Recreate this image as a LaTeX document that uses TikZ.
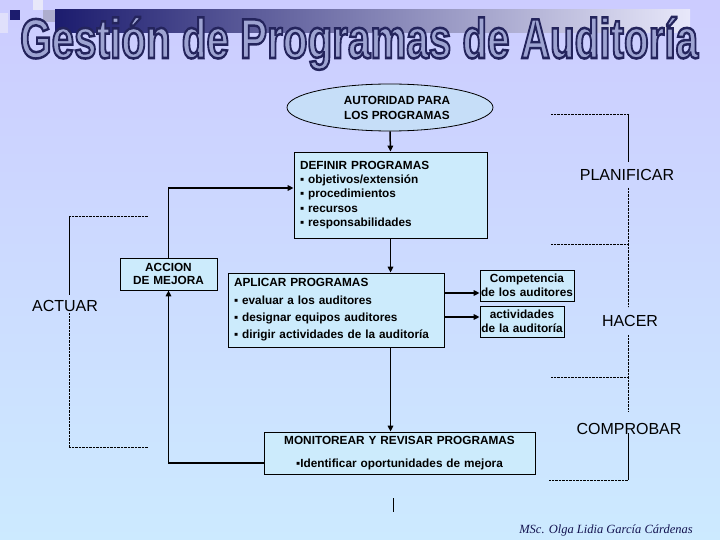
\documentclass[tikz,border=0pt]{standalone}
\usepackage{fontspec}
\setmainfont{Liberation Sans}
\newfontfamily\sigfont{Liberation Serif}
\usetikzlibrary{arrows.meta,shapes.geometric,calc}
\definecolor{bgtop}{RGB}{204,204,255}
\definecolor{bgbot}{RGB}{204,234,255}
\definecolor{boxfill}{RGB}{204,235,252}
\definecolor{ellfill}{RGB}{198,222,248}
\definecolor{navy}{RGB}{28,28,110}
\definecolor{barmid}{RGB}{140,140,185}
\definecolor{barend}{RGB}{232,232,250}
\definecolor{titlefill}{RGB}{158,164,210}
\definecolor{sigcol}{RGB}{20,20,80}
\newcommand\ttltext{\scalebox{1.01}[1.4]{\fontsize{40}{40}\selectfont\bfseries Gestión de Programas de Auditoría}}
\newcommand\outlineon{\special{pdf:literal direct 2 Tr 1.8 w 0.141 0.141 0.361 RG}}
\newcommand\outlineoff{\special{pdf:literal direct 0 Tr 0.4 w}}
\begin{document}
\begin{tikzpicture}[x=1pt,y=-1pt,
  box/.style={draw=black,line width=0.8pt,fill=boxfill,inner xsep=6pt,inner ysep=0pt},
  boxfont/.style={font=\fontsize{11.8}{#1}\selectfont\bfseries},
  arr/.style={line width=1.5pt,-{Triangle[length=6pt,width=5.5pt]}},
  solidline/.style={line width=0.8pt},
  dotline/.style={line width=0.8pt,dash pattern=on 0.7pt off 0.7pt},
  phase/.style={font=\fontsize{16}{18}\selectfont,inner sep=0pt}]
\useasboundingbox (0,0) rectangle (720,540);
% background
\shade[top color=bgtop,bottom color=bgbot] (0,0) rectangle (720,540);
% title decoration
\fill[barend!70!bgtop] (0,13) rectangle (8,33);
\fill[barend] (33,0) rectangle (43,10);
\fill[navy] (10,10) rectangle (20,20);
\fill[barmid!70!white] (43,10) rectangle (55,22);
\shade[left color=navy,middle color=barmid,right color=barend] (55,10) rectangle (690,33);
% title text
\node[anchor=base west,inner sep=0pt,text=titlefill] (title) at (20,58) {\outlineon\ttltext\outlineoff};

% nodes
\node[ellipse,draw=black,line width=0.8pt,fill=ellfill,minimum width=206pt,minimum height=47pt,inner sep=0pt] (aut) at (390,107.5) {};
\node[boxfont=15,align=center,inner sep=0pt] (autlbl) at (397,108) {AUTORIDAD PARA\\LOS PROGRAMAS};

\node[box,boxfont=14.25,text width=181pt,minimum height=86pt,align=left] (def) at (390.5,195)
  {DEFINIR PROGRAMAS\\ ▪ objetivos/extensión\\ ▪ procedimientos\\ ▪ recursos\\ ▪ responsabilidades};

\node[box,boxfont=17.3,text width=204pt,minimum height=74pt,align=left] (apl) at (336,310)
  {APLICAR PROGRAMAS\\ ▪ evaluar a los auditores\\ ▪ designar equipos auditores\\ ▪ dirigir actividades de la auditoría};

\node[box,boxfont=13,inner xsep=1pt,text width=95pt,minimum height=32pt,align=center] (acc) at (168.5,274)
  {ACCION\\DE MEJORA};

\node[box,boxfont=14,inner xsep=1pt,text width=92pt,minimum height=31pt,align=center] (comp) at (527,285.5)
  {Competencia\\de los auditores};

\node[box,boxfont=14,inner xsep=1pt,text width=82pt,minimum height=31pt,align=center] (act) at (522,321.5)
  {actividades\\de la auditoría};

\node[box,boxfont=23,inner xsep=1pt,text width=269pt,minimum height=42pt,align=center] (mon) at (399.5,453)
  {MONITOREAR Y REVISAR PROGRAMAS\\ ▪Identificar oportunidades de mejora};

% phase labels
\node[phase] (plan) at (627,175) {PLANIFICAR};
\node[phase] (hacer) at (630,321) {HACER};
\node[phase] (comprobar) at (629,429) {COMPROBAR};
\node[phase] (actuar) at (65,306) {ACTUAR};

% arrows
\draw[arr] (aut.south) -- (def.north);
\draw[arr] (def.south) -- (def.south |- apl.north);
\draw[arr] (def.south |- apl.south) -- (def.south |- mon.north);
\draw[arr] ([yshift=17pt]apl.east) -- ([yshift=17pt]apl.east -| comp.west);
\draw[arr] ([yshift=-7pt]apl.east) -- ([yshift=-7pt]apl.east -| act.west);
\draw[arr] (acc.north) |- ([yshift=7pt]def.west);
\draw[arr] ([yshift=-10pt]mon.west) -| (acc.south);

% right bracket
\draw[dotline] (551,114) -- (628,114);
\draw[solidline] (628,114) -- (628,162);
\draw[dotline] (628,188) -- (628,307);
\draw[dotline] (551,244) -- (628,244);
\draw[dotline] (628,335) -- (628,411);
\draw[dotline] (551,377) -- (628,377);
\draw[solidline] (628,433) -- (628,480);
\draw[dotline] (549,480) -- (628,480);
% left bracket
\draw[dotline] (69,216) -- (148,216);
\draw[solidline] (69,216) -- (69,295);
\draw[dotline] (69,313) -- (69,447);
\draw[dotline] (69,447) -- (148,447);
% small mark
\draw[line width=0.8pt] (393,498) -- (393,512);

% signature
\node[font=\sigfont\itshape\fontsize{12.5}{14}\selectfont,text=sigcol,inner sep=0pt] (sig) at (606,530) {MSc. Olga Lidia García Cárdenas};
\end{tikzpicture}
\end{document}
